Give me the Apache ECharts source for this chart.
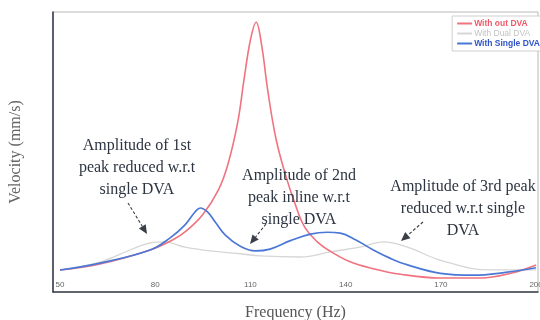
<!DOCTYPE html>
<html>
<head>
<meta charset="utf-8">
<script src="https://cdn.jsdelivr.net/npm/echarts@6/dist/echarts.min.js"></script>
<style>
  html, body { margin: 0; padding: 0; background: #ffffff; }
  #chart { width: 540px; height: 320px; }
</style>
</head>
<body>
<div id="chart"></div>
<script>
// Frequency response: velocity vs excitation frequency
const xTicks = [50, 80, 110, 140, 170, 200];

const freqWithout = [50, 62.6, 78.4, 85.6, 90, 95, 100, 103, 106, 108, 110, 111.8, 113.5, 115.5, 118, 121, 124, 127, 131, 135, 141, 148.7, 157.3, 169.9, 182.5, 192, 200];
const velWithout  = [2.36, 3.0, 4.5, 5.6, 6.6, 8.3, 11.0, 13.8, 18.2, 22.8, 27.0, 28.9, 26.5, 21.5, 16.5, 12.6, 9.5, 7.0, 5.4, 4.4, 3.3, 2.5, 1.9, 1.5, 1.5, 2.0, 2.9];

const freqDual = [50, 62.6, 72.1, 78.4, 83.1, 89.4, 97.3, 106.8, 113.1, 125.7, 135.2, 144.6, 151.9, 159.5, 169.9, 185.6, 200];
const velDual  = [2.36, 3.2, 4.5, 5.25, 5.36, 4.8, 4.4, 4.1, 3.86, 3.75, 4.3, 4.8, 5.36, 4.8, 3.4, 2.36, 2.36];

const freqSingle = [50, 62.6, 78.4, 84.7, 89.4, 92.6, 94.2, 96.4, 98.9, 102.1, 106.8, 111.5, 116.2, 122.6, 128.9, 134.2, 138.3, 143.1, 148.7, 154.1, 159.5, 169.9, 180.3, 190.4, 200];
const velSingle  = [2.36, 3.1, 4.5, 5.8, 7.2, 8.6, 9.0, 8.6, 7.5, 6.1, 4.9, 4.4, 4.6, 5.5, 6.2, 6.4, 6.3, 5.6, 4.5, 3.6, 2.9, 2.0, 1.8, 2.1, 2.6];

const seriesNames = ['With out DVA', 'With Dual DVA', 'With Single DVA'];
const seriesColors = ['#f0737f', '#d6d6d6', '#4b78d6'];

const pairs = (xs, ys) => xs.map((x, i) => [x, ys[i]]);

const chart = echarts.init(document.getElementById('chart'), null, { renderer: 'canvas' });

const serif = '"Liberation Serif", "DejaVu Serif", serif';

function lineSeries(name, color, data, z, width) {
  return {
    name, type: 'line', data, z,
    smooth: 0.4,
    showSymbol: false, symbol: 'none',
    lineStyle: { color, width },
    itemStyle: { color },
    emphasis: { disabled: true }
  };
}

chart.setOption({
  animation: false,
  backgroundColor: '#ffffff',
  grid: {
    left: 53, right: 2, top: 12, bottom: 28,
    containLabel: false, outerBoundsMode: 'none',
    show: true, borderColor: '#b8b8b8', borderWidth: 1, backgroundColor: '#ffffff'
  },
  xAxis: {
    type: 'value', min: 47.8, max: 200.6,
    name: 'Frequency (Hz)', nameLocation: 'middle', nameGap: 13,
    nameTextStyle: { fontFamily: serif, fontSize: 16, color: '#555' },
    axisLine: { show: true, onZero: false, lineStyle: { color: '#3a3f4a', width: 1.5 } },
    axisTick: { show: false },
    splitLine: { show: false },
    axisLabel: {
      inside: true, margin: 3, fontSize: 8, color: '#666',
      customValues: xTicks, showMinLabel: true, showMaxLabel: true, hideOverlap: false
    }
  },
  yAxis: {
    type: 'value', min: 0, max: 30,
    name: 'Velocity (mm/s)', nameLocation: 'middle', nameGap: 29,
    nameTextStyle: { fontFamily: serif, fontSize: 16, color: '#666' },
    axisLine: { show: true, lineStyle: { color: '#2e3550', width: 1.5 } },
    axisTick: { show: false },
    axisLabel: { show: false },
    splitLine: { show: false }
  },
  legend: {
    orient: 'vertical', right: -4, top: 16,
    itemWidth: 15, itemHeight: 2, itemGap: 1, icon: 'rect',
    padding: [3, 4, 3, 5],
    backgroundColor: '#ffffff', borderColor: '#cfcfcf', borderWidth: 1,
    textStyle: { fontSize: 8.5, fontWeight: 'bold', padding: [0, 0, 0, -3] },
    data: [
      { name: seriesNames[0], textStyle: { color: '#ee5a68' } },
      { name: seriesNames[1], textStyle: { color: '#c4c4c4', fontWeight: 'normal' } },
      { name: seriesNames[2], textStyle: { color: '#2f55c8' } }
    ]
  },
  series: [
    lineSeries(seriesNames[1], seriesColors[1], pairs(freqDual, velDual), 1, 1.3),
    lineSeries(seriesNames[0], seriesColors[0], pairs(freqWithout, velWithout), 2, 1.6),
    lineSeries(seriesNames[2], seriesColors[2], pairs(freqSingle, velSingle), 3, 1.7)
  ]
});

// Callout texts and dashed arrows pointing at the peaks
const notes = [
  { text: 'Amplitude of 1st\npeak reduced w.r.t\nsingle DVA', x: 137, y: 145 },
  { text: 'Amplitude of 2nd\npeak inline w.r.t\nsingle DVA', x: 299, y: 175 },
  { text: 'Amplitude of 3rd peak\nreduced w.r.t single\nDVA', x: 463, y: 186 }
];
const arrows = [
  { from: [128, 203], to: [147, 234] },
  { from: [266, 224], to: [250, 244] },
  { from: [423, 222], to: [401, 241] }
];

const graphics = [];
notes.forEach(n => {
  graphics.push({
    type: 'text', z: 10,
    position: [n.x, n.y - 10],
    style: {
      text: n.text, x: 0, y: 0, align: 'center', verticalAlign: 'top',
      font: '16px ' + serif, fill: '#2c3541', lineHeight: 22
    }
  });
});
arrows.forEach(a => {
  const [x1, y1] = a.from, [x2, y2] = a.to;
  const ang = Math.atan2(y2 - y1, x2 - x1);
  const len = 9, half = 4;
  const bx = x2 - len * Math.cos(ang), by = y2 - len * Math.sin(ang);
  const px = -Math.sin(ang) * half, py = Math.cos(ang) * half;
  graphics.push({
    type: 'line', z: 10,
    shape: { x1, y1, x2: bx, y2: by },
    style: { stroke: '#3a3f48', lineWidth: 1.1, lineDash: [3, 2] }
  });
  graphics.push({
    type: 'polygon', z: 10,
    shape: { points: [[x2, y2], [bx + px, by + py], [bx - px, by - py]] },
    style: { fill: '#3a3f48' }
  });
});
chart.setOption({ graphic: graphics });
</script>
</body>
</html>
